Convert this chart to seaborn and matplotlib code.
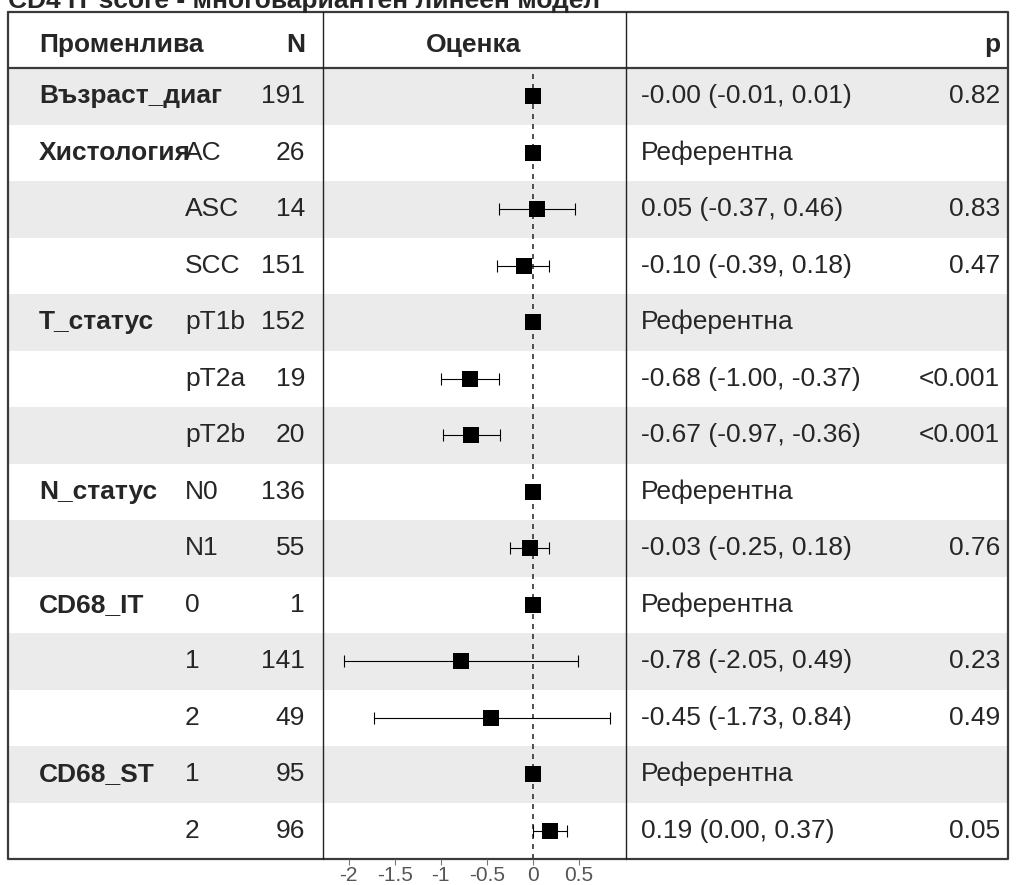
import numpy as np
import pandas as pd
import matplotlib
matplotlib.use("Agg")
import matplotlib.pyplot as plt
import seaborn as sns

sns.set_style("white")
plt.rcParams['font.family'] = ['Liberation Sans', 'DejaVu Sans']

title = "CD4 IT score - многовариантен линеен модел"
headers = ["Променлива", "N", "Оценка", "p"]

variables = ["Възраст_диаг", "Хистология", "", "", "T_статус", "", "",
             "N_статус", "", "CD68_IT", "", "", "CD68_ST", ""]
levels = ["", "AC", "ASC", "SCC", "pT1b", "pT2a", "pT2b",
          "N0", "N1", "0", "1", "2", "1", "2"]
n_obs = [191, 26, 14, 151, 152, 19, 20, 136, 55, 1, 141, 49, 95, 96]
estimate = [-0.00, 0.0, 0.05, -0.10, 0.0, -0.68, -0.67, 0.0, -0.03, 0.0, -0.78, -0.45, 0.0, 0.19]
ci_low = [-0.01, np.nan, -0.37, -0.39, np.nan, -1.00, -0.97, np.nan, -0.25, np.nan, -2.05, -1.73, np.nan, 0.00]
ci_high = [0.01, np.nan, 0.46, 0.18, np.nan, -0.37, -0.36, np.nan, 0.18, np.nan, 0.49, 0.84, np.nan, 0.37]
est_labels = ["-0.00 (-0.01, 0.01)", "Референтна", "0.05 (-0.37, 0.46)", "-0.10 (-0.39, 0.18)",
              "Референтна", "-0.68 (-1.00, -0.37)", "-0.67 (-0.97, -0.36)", "Референтна",
              "-0.03 (-0.25, 0.18)", "Референтна", "-0.78 (-2.05, 0.49)", "-0.45 (-1.73, 0.84)",
              "Референтна", "0.19 (0.00, 0.37)"]
p_labels = ["0.82", "", "0.83", "0.47", "", "<0.001", "<0.001", "", "0.76", "", "0.23", "0.49", "", "0.05"]
x_ticks = [-2, -1.5, -1, -0.5, 0, 0.5]
x_ticklabels = ["-2", "-1.5", "-1", "-0.5", "0", "0.5"]

df = pd.DataFrame({"row": np.arange(len(levels)), "est": estimate,
                   "lo": ci_low, "hi": ci_high})

W, H = 1016, 885
fig = plt.figure(figsize=(W / 100, H / 100), dpi=100)

# table layer in pixel coordinates
ax = fig.add_axes([0, 0, 1, 1])
ax.set_xlim(0, W)
ax.set_ylim(H, 0)
ax.axis("off")

top, head, bottom = 12, 68, 859
left, right = 8, 1008
col1, col2 = 322.7, 626
row_h = (bottom - head) / len(levels)

for i in range(len(levels)):
    if i % 2 == 0:
        ax.fill_between([left, right], head + i * row_h, head + (i + 1) * row_h,
                        color="#ebebeb", lw=0, zorder=0)

edge = "#3a3a3a"
ax.plot([left, right, right, left, left], [top, top, bottom, bottom, top], color=edge, lw=1.6)
ax.plot([left, right], [head, head], color=edge, lw=1.6)
ax.plot([col1, col1], [top, bottom], color="#222222", lw=1)
ax.plot([col2, col2], [top, bottom], color="#222222", lw=1)

fs = 19
hy = 45
ax.text(39, hy, headers[0], fontsize=fs, fontweight="bold", va="center", ha="left")
ax.text(305, hy, headers[1], fontsize=fs, fontweight="bold", va="center", ha="right")
ax.text(474, hy, headers[2], fontsize=fs, fontweight="bold", va="center", ha="center")
ax.text(1000, hy, headers[3], fontsize=fs, fontweight="bold", va="center", ha="right")

for i in range(len(levels)):
    y = head + (i + 0.5) * row_h
    ax.text(39, y, variables[i], fontsize=fs, fontweight="bold", va="center", ha="left")
    ax.text(185, y, levels[i], fontsize=fs, va="center", ha="left")
    ax.text(305, y, str(n_obs[i]), fontsize=fs, va="center", ha="right")
    ax.text(641, y, est_labels[i], fontsize=fs, va="center", ha="left")
    ax.text(1000, y, p_labels[i], fontsize=fs, va="center", ha="right")

# title is cropped at the top edge in the reference
fig.text(left / W, 1 - 8 / H, title, fontsize=fs, fontweight="bold", va="baseline", ha="left")

# forest plot
fax = fig.add_axes([col1 / W, 1 - bottom / H, (col2 - col1) / W, (bottom - head) / H])
fax.patch.set_alpha(0)
fax.axvline(0, color="#333333", lw=1.2, ls=(0, (3, 3)), zorder=1)
ci = df.dropna()
fax.errorbar(ci["est"], ci["row"], xerr=[ci["est"] - ci["lo"], ci["hi"] - ci["est"]],
             fmt="none", ecolor="black", elinewidth=0.8, capsize=4, capthick=0.8, zorder=2)
sns.scatterplot(data=df, x="est", y="row", marker="s", s=120, color="black",
                edgecolor="black", linewidth=0, ax=fax, zorder=3)
fax.set_xlim(-2.283, 1.014)
fax.set_ylim(len(levels) - 0.5, -0.5)
fax.set_yticks([])
fax.set_xticks(x_ticks)
fax.set_xticklabels(x_ticklabels, fontsize=15, color="#555555")
fax.tick_params(axis="x", direction="out", length=4, width=0.8, color="#777777", pad=1, bottom=True)
fax.set_xlabel("")
fax.set_ylabel("")
for s in fax.spines.values():
    s.set_visible(False)

fig.savefig("out.png", dpi=100)
